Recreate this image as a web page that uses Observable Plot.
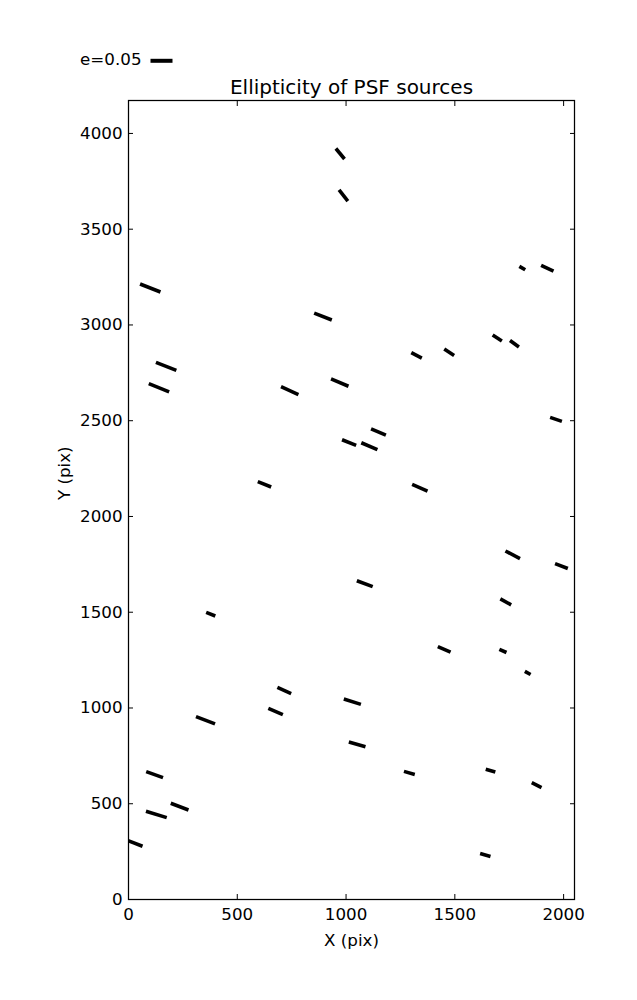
<!DOCTYPE html>
<html><head><meta charset="utf-8">
<script src="https://cdn.jsdelivr.net/npm/d3@7"></script>
<script src="https://cdn.jsdelivr.net/npm/@observablehq/plot@0.6"></script>
<style>body{margin:0;background:#fff}</style>
</head><body><div id="chart"></div>
<script>
// PSF source positions (pix), ellipticity, and orientation angle (deg, ccw from +x)
const sourceX = [973, 988, 100, 894, 1810, 1925, 1695, 1774, 173, 140, 741, 971, 1324, 1474, 1965, 1149, 1014, 1107, 625, 1339, 1766, 1990, 1086, 378, 1734, 1451, 1721, 1835, 716, 676, 354, 1029, 1051, 1291, 1664, 1876, 120, 128, 235, 28, 1640];
const sourceY = [3894, 3676, 3193, 3044, 3297, 3296, 2932, 2902, 2784, 2672, 2657, 2699, 2841, 2857, 2507, 2441, 2386, 2367, 2168, 2150, 1800, 1741, 1649, 1490, 1554, 1306, 1298, 1183, 1091, 982, 936, 1033, 810, 661, 673, 597, 652, 444, 485, 294, 232];
const ellipticity = [0.0309, 0.0323, 0.0498, 0.0430, 0.0155, 0.0311, 0.0248, 0.0250, 0.0498, 0.0500, 0.0434, 0.0430, 0.0270, 0.0268, 0.0282, 0.0366, 0.0345, 0.0398, 0.0327, 0.0380, 0.0373, 0.0311, 0.0384, 0.0223, 0.0280, 0.0316, 0.0177, 0.0148, 0.0343, 0.0359, 0.0464, 0.0407, 0.0393, 0.0255, 0.0227, 0.0248, 0.0405, 0.0493, 0.0430, 0.0386, 0.0245];
const angleDeg = [-50.5, -51.9, -21.5, -21.3, -30.8, -25.3, -32.6, -35.8, -21.3, -22.2, -24.4, -22.8, -27.8, -33.2, -18.7, -23.1, -21.8, -23.2, -21.7, -23.2, -27.5, -21.1, -20.6, -21.8, -28.7, -23.8, -24.2, -28.6, -24.2, -23.2, -21.1, -17.6, -15.9, -15.8, -15.8, -26.6, -19.6, -16.9, -20.6, -21.0, -16.3];
const xTicks = [0, 500, 1000, 1500, 2000];
const yTicks = [0, 500, 1000, 1500, 2000, 2500, 3000, 3500, 4000];
const legendE = [0.05];
const legendLabel = ["e=0.05"];
const titleText = ["Ellipticity of PSF sources"];
const xLabel = ["X (pix)"];
const yLabel = ["Y (pix)"];

const sources = sourceX.map((x, i) => ({x, y: sourceY[i], e: ellipticity[i], angle: angleDeg[i]}));

const whisker = {draw(context, l) { context.moveTo(0, 0); context.lineTo(0, -l); }};
const fmt = d => String(d);
const FS = 16.7;

const chart = Plot.plot({
  width: 637,
  height: 1000,
  marginLeft: 128,
  marginRight: 63,
  marginTop: 100,
  marginBottom: 101,
  style: {fontFamily: "DejaVu Sans", background: "white", color: "black"},
  x: {domain: [0, 2050], label: null},
  y: {domain: [0, 4172], label: null},
  length: {type: "linear", domain: [0, 0.05], range: [0, 22]},
  marks: [
    Plot.vector(sources, {
      x: "x", y: "y", length: "e", rotate: d => 90 - d.angle,
      anchor: "middle", shape: whisker, stroke: "black", strokeWidth: 3.6,
      strokeLinecap: "butt", clip: true
    }),
    Plot.frame({stroke: "black", strokeWidth: 1.25}),
    Plot.axisX(xTicks, {anchor: "bottom", tickSize: -5, tickPadding: 14, tickFormat: fmt, fontSize: FS, label: null}),
    Plot.axisX(xTicks, {anchor: "top", tickSize: -5, fill: "none", label: null}),
    Plot.axisY(yTicks, {anchor: "left", tickSize: -5, tickPadding: 11, tickFormat: fmt, fontSize: FS, label: null}),
    Plot.axisY(yTicks, {anchor: "right", tickSize: -5, fill: "none", label: null}),
    Plot.text(titleText, {text: d => d, frameAnchor: "top", dy: -21, lineAnchor: "top", fontSize: 20}),
    Plot.text(xLabel, {text: d => d, frameAnchor: "bottom", dy: 35, lineAnchor: "top", fontSize: FS}),
    Plot.text(yLabel, {text: d => d, frameAnchor: "left", dx: -64, rotate: -90, lineAnchor: "middle", fontSize: FS}),
    Plot.text(legendLabel, {text: d => d, frameAnchor: "top-left", dx: 13, dy: -47, lineAnchor: "top", textAnchor: "end", fontSize: FS}),
    Plot.vector(legendE, {length: d => d, rotate: 90, frameAnchor: "top-left", dx: 22, dy: -39.7, anchor: "start", shape: whisker, stroke: "black", strokeWidth: 4, strokeLinecap: "butt"})
  ]
});
document.getElementById("chart").appendChild(chart);
</script>
</body></html>
